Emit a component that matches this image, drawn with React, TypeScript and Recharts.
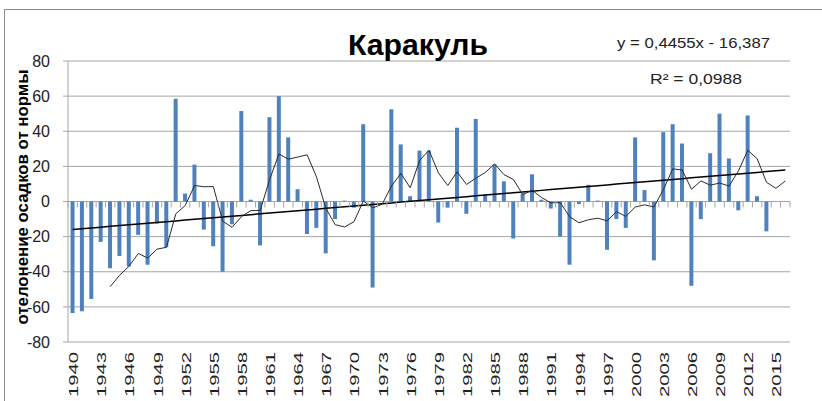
import React from "react";
import { ComposedChart, Bar, Line, XAxis, YAxis, CartesianGrid } from "recharts";

// отклонение осадков от нормы, Каракуль, 1940–2016 (2015, 2016 — нет данных)
const FIRST_YEAR = 1940;
const deviation: (number | null)[] = [
  -63.5, -62.5, -55.5, -23, -38, -31, -37, -19, -36, -12.5, // 1940-1949
  -26, 58.5, 4.5, 21, -16, -25.5, -40, -13, 51.5, 1,        // 1950-1959
  -25, 48, 60, 36.5, 7, -18.5, -15, -29.5, -10, 0.5,        // 1960-1969
  -3.5, 44, -49, 0, 52.5, 32.5, 3, 29, 29, -12,             // 1970-1979
  -3.5, 42, -7, 47, 4, 21, 11.5, -21, 4.5, 15.5,            // 1980-1989
  1, -4, -20, -36, -1.5, 9.5, 0.5, -27.5, -10, -15,         // 1990-1999
  36.5, 6.5, -33.5, 39.5, 44, 33, -48, -10, 27.5, 50,       // 2000-2009
  24.5, -5, 49, 3, -17, null, null,                         // 2010-2016
];
const years = deviation.map((_, i) => String(FIRST_YEAR + i));
const yTicks = [-80, -60, -40, -20, 0, 20, 40, 60, 80];

// линейный тренд и скользящее среднее (период 5), как в подписи графика
const TREND_SLOPE = 0.4455;
const TREND_INTERCEPT = -16.387;
const MA_PERIOD = 5;

const data = years.map((year, i) => {
  let ma: number | null = null;
  if (i >= MA_PERIOD - 1) {
    const win = deviation.slice(i - MA_PERIOD + 1, i + 1).filter((v): v is number => v !== null);
    ma = win.length ? win.reduce((s, v) => s + v, 0) / win.length : null;
  }
  return { year, value: deviation[i], ma, trend: TREND_SLOPE * (i + 1) + TREND_INTERCEPT };
});

const W = 822;
const H = 401;
const PLOT_LEFT = 68;
const PLOT_RIGHT = 790;
const PLOT_TOP = 61;
const PLOT_BOTTOM = 342;
const PLOT_W = PLOT_RIGHT - PLOT_LEFT;
const ZERO_Y = PLOT_TOP + (PLOT_BOTTOM - PLOT_TOP) / 2;
const GRID = "#a6a6a6";
const FONT = "'Liberation Sans', Arial, sans-serif";

function YearTick(props: any) {
  const { x, payload, index } = props;
  const band = PLOT_W / years.length;
  const left = x - band / 2;
  return (
    <g>
      <line x1={left} x2={left} y1={ZERO_Y} y2={ZERO_Y + 6} stroke={GRID} />
      {index === years.length - 1 && (
        <line x1={left + band} x2={left + band} y1={ZERO_Y} y2={ZERO_Y + 6} stroke={GRID} />
      )}
      {index % 3 === 0 && (
        <text
          transform={`translate(${x + 1},${PLOT_BOTTOM + 10}) rotate(-90)`}
          textAnchor="end"
          dominantBaseline="central"
          fontSize={13}
          fontFamily={FONT}
          fill="#222"
          textLength={45}
          lengthAdjust="spacingAndGlyphs"
        >
          {payload.value}
        </text>
      )}
    </g>
  );
}

export default function App() {
  return (
    <div style={{ position: "absolute", left: 0, top: 0, width: W, height: H, background: "#fff", overflow: "hidden" }}>
      <div style={{ position: "absolute", left: 4, top: 9, right: -2, bottom: -2, borderTop: "1px solid #8c8c8c", borderLeft: "1px solid #8c8c8c" }} />
      <ComposedChart
        width={W}
        height={H}
        data={data}
        margin={{ top: PLOT_TOP, right: W - PLOT_RIGHT, bottom: 0, left: PLOT_LEFT - 40 }}
        barCategoryGap="27%"
        style={{ position: "absolute", left: 0, top: 0 }}
      >
        <CartesianGrid vertical={false} stroke={GRID} />
        <XAxis
          dataKey="year"
          interval={0}
          height={H - PLOT_BOTTOM}
          axisLine={false}
          tickLine={false}
          tickSize={0}
          tick={<YearTick />}
        />
        <YAxis
          domain={[-80, 80]}
          ticks={yTicks}
          width={40}
          tickSize={5}
          tickMargin={13}
          stroke={GRID}
          tick={{ fill: "#222", fontSize: 16, fontFamily: FONT }}
        />
        <Bar dataKey="value" fill="#4f81bd" isAnimationActive={false} />
        <Line dataKey="trend" stroke="#000" strokeWidth={1.5} dot={false} isAnimationActive={false} />
        <Line dataKey="ma" stroke="#2b2b2b" strokeWidth={1} dot={false} isAnimationActive={false} />
      </ComposedChart>
      <svg width={W} height={H} style={{ position: "absolute", left: 0, top: 0, pointerEvents: "none" }}>
        <text x={418} y={55} textAnchor="middle" fontSize={29} fontWeight="bold" fontFamily={FONT} textLength={140} lengthAdjust="spacingAndGlyphs">
          Каракуль
        </text>
        <text x={617} y={48} fontSize={15} fontFamily={FONT} fill="#222" textLength={153} lengthAdjust="spacingAndGlyphs">
          y = 0,4455x - 16,387
        </text>
        <text x={650} y={84} fontSize={15} fontFamily={FONT} fill="#222" textLength={92} lengthAdjust="spacingAndGlyphs">
          R² = 0,0988
        </text>
        <text
          transform="translate(28,197) rotate(-90)"
          textAnchor="middle"
          fontSize={17}
          fontWeight="bold"
          fontFamily={FONT}
          textLength={255}
          lengthAdjust="spacingAndGlyphs"
        >
          отелонение осадков от нормы
        </text>
      </svg>
    </div>
  );
}
